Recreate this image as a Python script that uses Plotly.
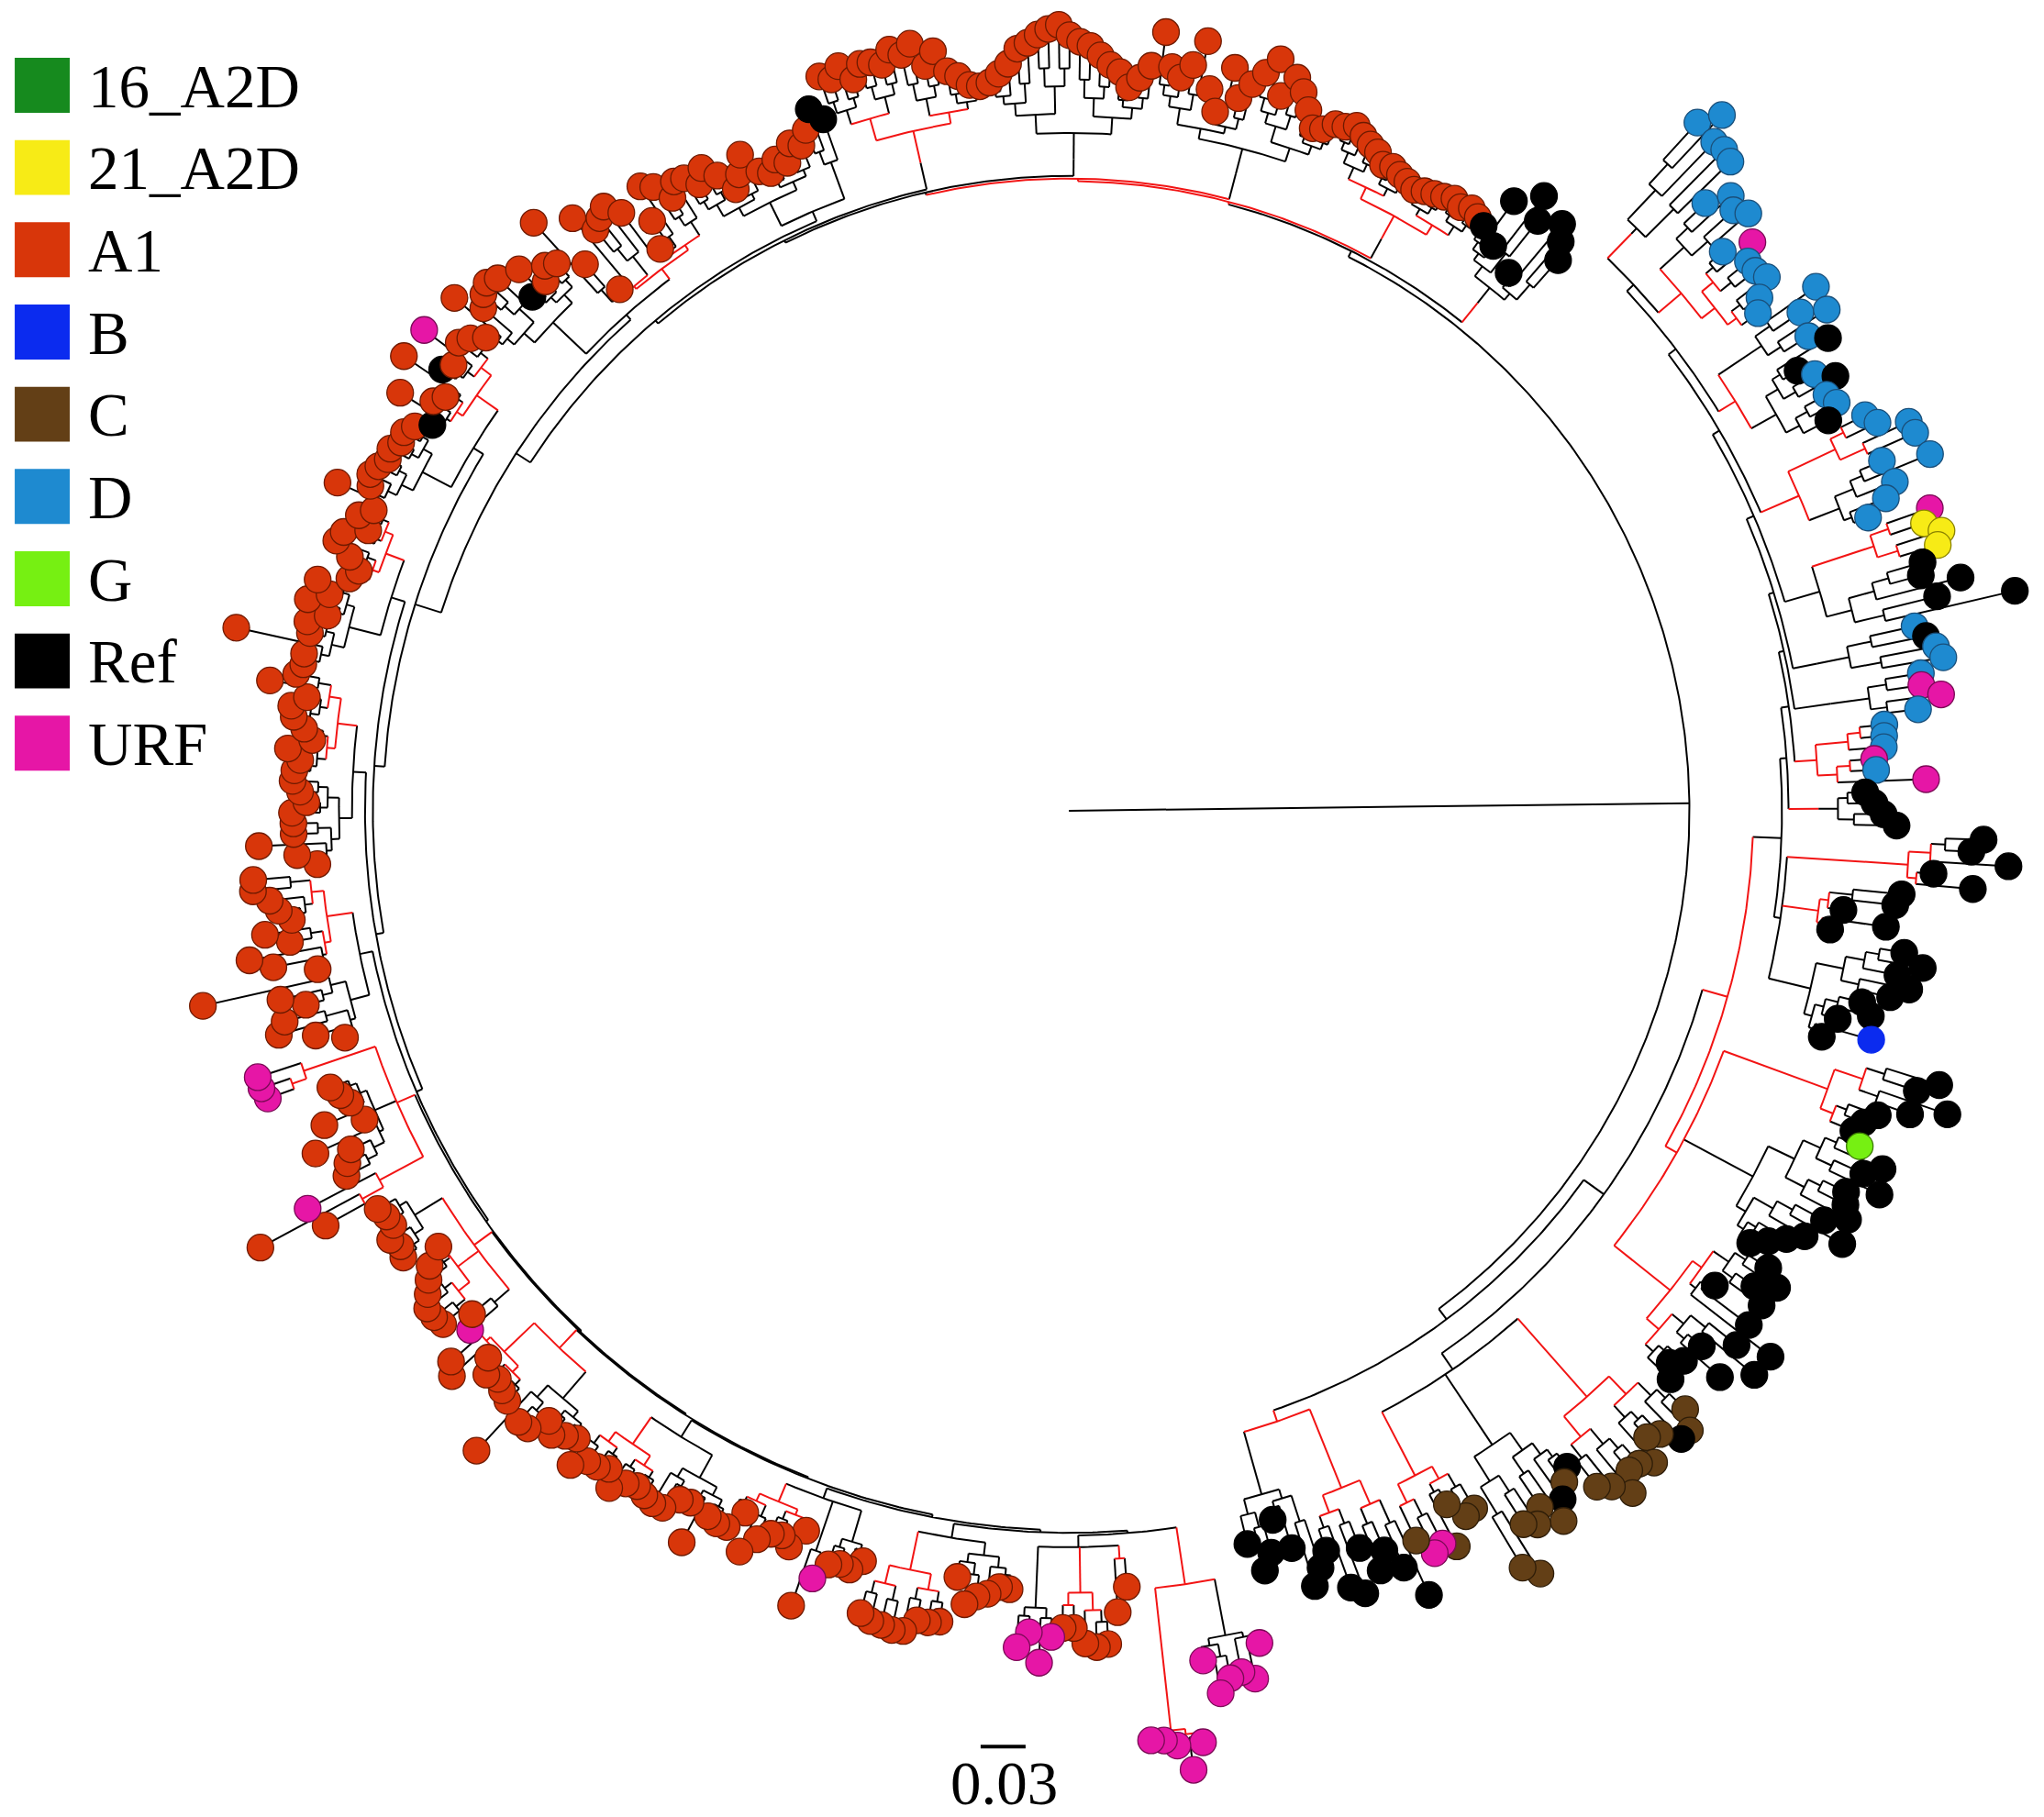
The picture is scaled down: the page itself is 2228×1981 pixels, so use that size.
"""Circular phylogeny of subtype samples, redrawn with Plotly."""
import math
import plotly.graph_objects as go

# ---------------------------------------------------------------- groups
GROUP_NAMES = {"E": "16_A2D", "Y": "21_A2D", "A": "A1", "B": "B", "C": "C",
               "D": "D", "G": "G", "K": "Ref", "U": "URF"}
LEGEND_ORDER = ["E", "Y", "A", "B", "C", "D", "G", "K", "U"]
FILL = {"E": "#168A1E", "Y": "#F7EB16", "A": "#D8360A", "B": "#0B2BEF",
        "C": "#633F16", "D": "#1E8AD0", "G": "#76F012", "K": "#000000",
        "U": "#E616A6"}
EDGE = {"E": "#0B4A10", "Y": "#8A8200", "A": "#6E1A00", "B": "#0B2BEF",
        "C": "#2E1D08", "D": "#1A4F7A", "G": "#3A7A00", "K": "#000000",
        "U": "#7A0A55"}
BRANCH = {"k": "#000000", "r": "#F21414"}

# ------------------------------------------------------------ tree data
# depths = distance from the root in tree units (34.5 units = 0.03 subst./site)
SCALE_BAR_VALUE = 0.03
UNITS_PER_SCALE_BAR = 34.5
ROOT_DEPTH = 476
ROOT_ANGLE = 0.7
FIRST_LEAF_ANGLE = 47.6     # leaves run clockwise from here

# clade = (node depth, stem colour, [(sub node depth, sub colour, groups, leaf depths)])
# lineage W: right side (D / Ref / C), clockwise from the top right
W_CLADES = [
    (618, "r", [(624, "k", "DDDDD", [715, 732, 713, 714, 711])]),
    (615, "r", [(640, "k", "DDDD", [675, 693, 687, 694]),
                (628, "r", "DUDDDDD", [660, 682, 670, 670, 674, 660, 652])]),
    (600, "r", [(640, "k", "DDDD", [700, 679, 697, 674]),
                (622, "k", "KKDKDDK", [686, 653, 663, 676, 663, 667, 655])]),
    (610, "r", [(650, "r", "DDDD", [682, 688, 710, 711]),
                (635, "k", "DDDDD", [679, 715, 682, 671, 653])]),
    (600, "k", [(650, "r", "UYYY", [700, 692, 703, 697]),
                (620, "k", "KKKKK", [682, 678, 707, 686, 745])]),
    (585, "k", [(610, "k", "DKDD", [664, 671, 677, 681])]),
    (590, "k", [(620, "k", "DUUD", [662, 661, 675, 656])]),
    (575, "r", [(600, "r", "DDD", [629, 628, 627]),
                (590, "r", "UDU", [619, 620, 658])]),
    (575, "r", [(590, "k", "KKKK", [611, 618, 625, 635])]),
    (552, "k", [(645, "r", "KKKKK", [702, 693, 722, 665, 696]),
                (580, "r", "KKKKK", [642, 638, 599, 633, 591]),
                (585, "k", "KKKKKKKKBK", [650, 666, 648, 659, 646, 626, 635, 611, 640, 603])]),
    (535, "r", [(620, "r", "KKKKKKK", [700, 685, 713, 686, 663, 655, 650]),
                (595, "k", "GKKKKKKKKKKKK", [659, 682, 670, 688, 664, 668, 675, 659, 680, 652, 641, 630, 619]),
                (590, "r", "KKKKKKKKKKKKKK", [641, 655, 640, 653, 615, 654, 682, 656, 681, 636, 662, 633, 626, 635])]),
    (520, "k", [(600, "r", "CCKCCCCCCCC", [659, 673, 673, 659, 654, 672, 665, 664, 679, 665, 658]),
                (585, "k", "KCKCCCCCC", [632, 640, 650, 664, 645, 655, 649, 688, 677]),
                (575, "r", "CCCCUUC", [619, 621, 606, 638, 631, 635, 620])]),
    (495, "r", [(560, "r", "KKKKKKKK", [662, 635, 617, 630, 608, 642, 634, 601]),
                (545, "k", "KKKKKKK", [612, 624, 591, 566, 590, 602, 579])]),
]
W_BACKBONE = [600, 592, 585, 578, 572, 566, 562, 558, 552, 547, 525, 505, 486]
W_BACKBONE_COL = "kkkkkkkkkkrkk"

# lineage U: bottom, left and top (A1 / URF), clockwise from the bottom
U_CLADES = [
    (600, "r", [(644, "k", "UUUUUU", [655, 681, 674, 677, 687, 660]),
                (710, "r", "UUUUU", [722, 742, 722, 717, 716])]),
    (565, "k", [(575, "r", "AA", [597, 616]),
                (600, "r", "AAAAA", [640, 642, 639, 627, 627]),
                (612, "k", "UUUU", [634, 654, 631, 643])]),
    (565, "k", [(575, "k", "AAAAAA", [599, 598, 604, 607, 614, 594]),
                (595, "r", "AAAAAAAA", [630, 632, 632, 642, 643, 641, 640, 636])]),
    (560, "k", [(585, "k", "AAAA", [597, 606, 604, 607]),
                (600, "k", "UA", [621, 646]),
                (575, "r", "AAAAAAAA", [588, 604, 598, 600, 608, 622, 593, 609])]),
    (565, "k", [(585, "k", "AAAAAAA", [610, 608, 635, 605, 607, 619, 620]),
                (590, "r", "AAAAAAAA", [618, 615, 618, 628, 616, 620, 621, 631])]),
    (568, "r", [(595, "k", "AAAAAAA", [612, 616, 622, 615, 630, 631, 669]),
                (600, "r", "AAAAAAA", [625, 622, 618, 622, 612, 642, 635])]),
    (565, "r", [(580, "k", "UA", [608, 599]),
                (585, "r", "AAAAAAA", [621, 623, 623, 616, 609, 602, 588]),
                (590, "k", "AAAAAA", [615, 612, 616, 608, 609, 612])]),
    (562, "r", [(600, "r", "AAU", [653, 705, 659]),
                (580, "k", "AAAAAAAAA", [621, 616, 609, 635, 590, 620, 595, 600, 605]),
                (620, "r", "UUU", [653, 655, 655])]),
    (555, "k", [(570, "k", "AAAAAAA", [582, 603, 630, 623, 604, 622, 681]),
                (575, "r", "AAAAAAAAAA", [589, 622, 639, 606, 624, 602, 611, 617, 629, 628])]),
    (550, "k", [(560, "k", "AAAAAAAAA", [578, 593, 622, 595, 595, 596, 585, 590, 596]),
                (565, "r", "AAAAAAAAAA", [595, 591, 601, 583, 590, 599, 602, 591, 621, 602])]),
    (545, "k", [(570, "k", "AAAAAAAAA", [598, 599, 654, 598, 602, 588, 606, 591, 603]),
                (560, "r", "AAAAAAAA", [580, 575, 585, 599, 596, 579, 590, 581])]),
    (535, "k", [(560, "k", "AAAAAAAAA", [615, 591, 595, 592, 588, 590, 585, 587, 582]),
                (555, "r", "KAAAAKAUAA", [571, 605, 580, 574, 618, 588, 583, 617, 590, 585])]),
    (510, "k", [(545, "k", "AAAAAAKAAAA", [576, 614, 592, 599, 603, 599, 570, 592, 571, 580, 575]),
                (520, "r", "AAAAAAAAAAAAAA", [610, 560, 528, 593, 575, 580, 585, 573, 533, 554, 581, 575, 560, 570])]),
    (500, "k", [(520, "k", "AAAAAAAAAAAAA", [568, 558, 568, 557, 541, 550, 563, 545, 540, 548, 542, 555, 550]),
                (530, "k", "AKK", [560, 574, 563])]),
    (510, "k", [(535, "r", "AAAAAAAAAAAAAAAA", [595, 590, 598, 585, 595, 594, 590, 600, 594, 601, 582, 592, 575, 570, 562, 560])]),
    (500, "k", [(520, "k", "AAAAAAAAAAAAAAAAA", [562, 568, 575, 586, 590, 596, 600, 603, 595, 590, 587, 580, 573, 568, 557, 565, 575])]),
    (505, "k", [(525, "k", "AAAAAAAAAAAAAAAAAAA", [602, 576, 569, 580, 600, 564, 548, 584, 562, 575, 586, 599, 572, 589, 580, 568, 556, 558, 565])]),
    (500, "k", [(520, "r", "AAAAAAAAAAAAAAAAA", [566, 570, 565, 561, 558, 551, 553, 550, 548, 545, 548, 550, 552, 555, 552, 556, 553])]),
    (500, "r", [(515, "k", "KKKKKKKKK", [550, 579, 542, 596, 578, 533, 588, 577, 565])]),
]
U_BACKBONE = [566, 556, 554, 552, 550, 549, 548, 547, 545, 540, 534, 526, 505,
              492, 489, 487, 485, 483, 481]
U_BACKBONE_COL = "kkkkkkkkkkkkkkkkrrk"

# ---------------------------------------------------------- build tree
leaves = []


def new_leaf(group, depth):
    leaves.append((group, depth))
    return {"r": depth, "kids": [], "leaf": len(leaves) - 1, "col": "k"}


def split(items, r, col, level=0):
    node = {"r": r, "kids": [], "leaf": None, "col": col}
    half = (len(items) + 1) // 2
    for part in (items[:half], items[half:]):
        if not part:
            continue
        if len(part) == 1:
            node["kids"].append(part[0])
        else:
            rmin = min(p["r"] for p in part)
            kid_col = col if level == 0 else "k"
            node["kids"].append(split(part, r + 0.35 * (rmin - r), kid_col, level + 1))
    return node


def lineage(clades, backbone, backbone_col):
    nodes = []
    for node_r, stem, subs in clades:
        subnodes = []
        for sub_r, sub_col, groups, depths in subs:
            items = [new_leaf(g, d) for g, d in zip(groups, depths)]
            subnodes.append(split(items, sub_r, sub_col))
        nodes.append({"r": node_r, "kids": subnodes, "leaf": None, "col": stem})
    chain = nodes[0]
    for k in range(1, len(nodes)):
        chain = {"r": backbone[k], "kids": [chain, nodes[k]], "leaf": None,
                 "col": backbone_col[k]}
    return chain


w_root = lineage(W_CLADES, W_BACKBONE, W_BACKBONE_COL)
u_root = lineage(U_CLADES, U_BACKBONE, U_BACKBONE_COL)
n_leaves = len(leaves)
step = 360.0 / n_leaves


def place(node):
    if node["leaf"] is not None:
        node["ang"] = FIRST_LEAF_ANGLE - node["leaf"] * step
    else:
        for k in node["kids"]:
            place(k)
        node["ang"] = 0.5 * (node["kids"][0]["ang"] + node["kids"][-1]["ang"])


place(w_root)
place(u_root)

# ------------------------------------------------------------- geometry
CX, CY = 820.0, 772.0
segs = {"k": ([], []), "r": ([], [])}


def pt(r, a):
    t = math.radians(a)
    return CX + r * math.cos(t), CY + r * math.sin(t)


def radial(r0, r1, a, col):
    xs, ys = segs[col]
    for r in (r0, r1):
        x, y = pt(r, a)
        xs.append(x)
        ys.append(y)
    xs.append(None)
    ys.append(None)


def arc(r, a0, a1, col):
    xs, ys = segs[col]
    n = max(2, int(abs(a1 - a0) / 0.4) + 2)
    for i in range(n):
        x, y = pt(r, a0 + (a1 - a0) * i / (n - 1))
        xs.append(x)
        ys.append(y)
    xs.append(None)
    ys.append(None)


def draw(node, parent_r):
    radial(parent_r, node["r"], node["ang"], node["col"])
    if node["kids"]:
        arc(node["r"], node["kids"][0]["ang"], node["kids"][-1]["ang"], node["col"])
        for k in node["kids"]:
            draw(k, node["r"])


radial(0, ROOT_DEPTH, ROOT_ANGLE, "k")
arc(ROOT_DEPTH, w_root["ang"], u_root["ang"] + 360, "k")
draw(w_root, ROOT_DEPTH)
draw(u_root, ROOT_DEPTH)

fig = go.Figure()
for col in ("k", "r"):
    xs, ys = segs[col]
    fig.add_trace(go.Scatter(x=xs, y=ys, mode="lines", hoverinfo="skip",
                             line=dict(color=BRANCH[col], width=2.0)))

lx, ly, lc, le, lt = [], [], [], [], []
for i, (g, d) in enumerate(leaves):
    x, y = pt(d, FIRST_LEAF_ANGLE - i * step)
    lx.append(x)
    ly.append(y)
    lc.append(FILL[g])
    le.append(EDGE[g])
    lt.append(GROUP_NAMES[g])
fig.add_trace(go.Scatter(x=lx, y=ly, mode="markers", text=lt, hoverinfo="text",
                         marker=dict(size=29, color=lc, line=dict(color=le, width=1.3))))

# ---------------------------------------------------------------- legend
shapes, notes = [], []
for k, code in enumerate(LEGEND_ORDER):
    top = 1394 - 44.3 - 63.1 * k
    shapes.append(dict(type="rect", xref="x", yref="y", x0=11.3, x1=53.5,
                       y0=top - 42.2, y1=top, fillcolor=FILL[code], line=dict(width=0)))
    notes.append(dict(x=66, y=top - 21.5, xref="x", yref="y", text=GROUP_NAMES[code],
                      showarrow=False, xanchor="left", yanchor="middle",
                      font=dict(family="Liberation Serif", size=67, color="black")))

# scale bar
bar_len = SCALE_BAR_VALUE / SCALE_BAR_VALUE * UNITS_PER_SCALE_BAR
shapes.append(dict(type="line", xref="x", yref="y", x0=769.5 - bar_len / 2,
                   x1=769.5 + bar_len / 2, y0=54, y1=54, line=dict(color="black", width=4)))
notes.append(dict(x=770, y=26, xref="x", yref="y", text="0.03", showarrow=False,
                  xanchor="center", yanchor="middle",
                  font=dict(family="Liberation Serif", size=67, color="black")))

fig.update_layout(
    width=2228, height=1981, margin=dict(l=0, r=0, t=0, b=0),
    paper_bgcolor="white", plot_bgcolor="white", showlegend=False,
    xaxis=dict(range=[0, 1568], visible=False, fixedrange=True),
    yaxis=dict(range=[0, 1394], visible=False, fixedrange=True),
    shapes=shapes, annotations=notes,
)
fig.write_html("out.html", config={"displayModeBar": False},
               post_script="document.body.style.margin='0';")
